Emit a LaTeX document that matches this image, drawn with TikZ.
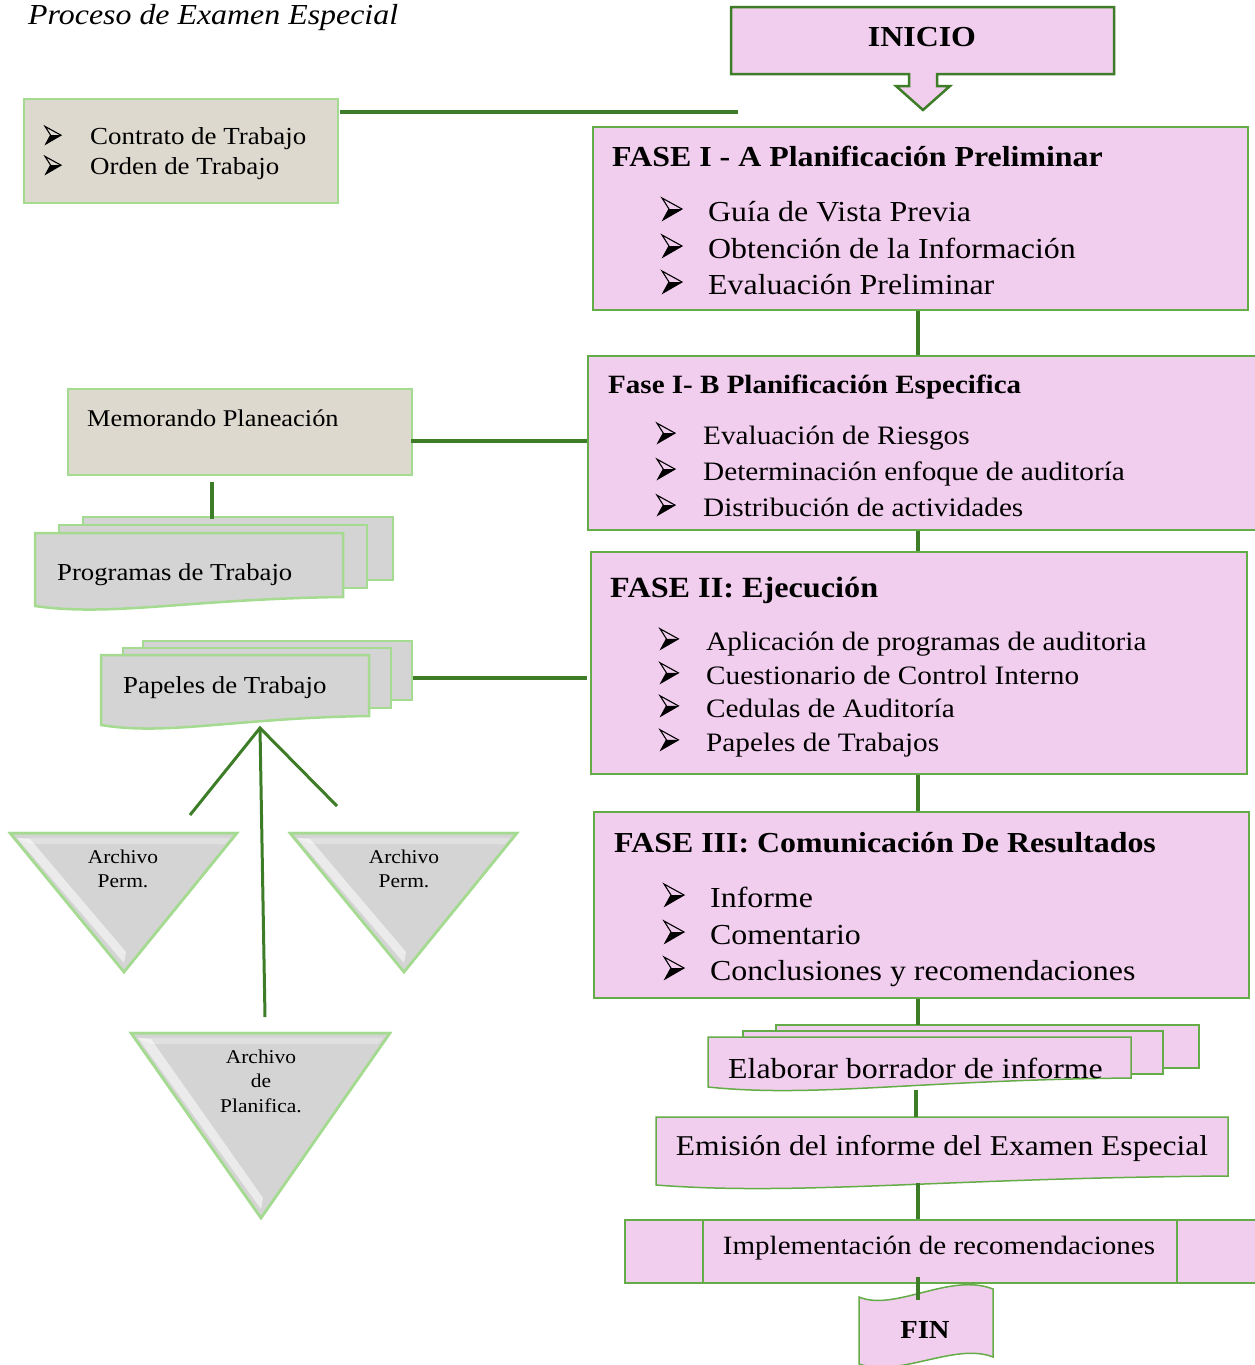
\documentclass[tikz,border=0pt]{standalone}
\usepackage{fontspec}
\setmainfont[FakeStretch=1.1]{Liberation Serif}
\usetikzlibrary{calc}
\definecolor{pinkf}{RGB}{242,206,238}
\definecolor{dkgreen}{RGB}{62,125,40}
\definecolor{mdgreen}{RGB}{100,172,72}
\definecolor{ltgreen}{RGB}{165,218,145}
\definecolor{grayf}{RGB}{212,212,212}
\definecolor{beigef}{RGB}{221,217,206}
\newcommand{\fs}[1]{\fontsize{#1}{#1}\selectfont}
% front document with wavy bottom: x1,y1,x2,y2(right bottom),style
\newcommand{\frontdoc}[5]{%
  \pgfmathsetmacro\wA{#1+0.5*(#3-#1)}%
  \pgfmathsetmacro\wB{#1+0.25*(#3-#1)}%
  \pgfmathsetmacro\yA{#4+2}\pgfmathsetmacro\yB{#4+20}\pgfmathsetmacro\yC{#4+9}%
  \draw[#5] (#1,#2) -- (#3,#2) -- (#3,#4) .. controls (\wA,\yA) and (\wB,\yB) .. (#1,\yC) -- cycle;}
% bevelled inverted triangle: Ax,Ay (top left), Bx (top right x), Cx,Cy (apex)
\newcommand{\bevtri}[5]{%
  \draw[grayshape] (#1,#2) -- (#3,#2) -- (#4,#5) -- cycle;
  \fill[white, opacity=0.55] ($(#1,#2)+(7,5)$) -- ($(#1,#2)+(20,6)$) -- ($(#4,#5)+(2,-20)$) -- ($(#4,#5)+(0,-9)$) -- cycle;
  \fill[white, opacity=0.3] ($(#1,#2)+(7,5)$) -- ($(#3,#2)+(-7,5)$) -- ($(#3,#2)+(-12,11)$) -- ($(#1,#2)+(20,11)$) -- cycle;
  \draw[draw=ltgreen, line width=2.5pt, line join=miter] (#1,#2) -- (#3,#2) -- (#4,#5) -- cycle;}
\begin{document}
\begin{tikzpicture}[x=1pt,y=-1pt,
  conn/.style={draw=dkgreen, line width=3.5pt},
  pinkbox/.style={draw=mdgreen, fill=pinkf, line width=1.5pt, inner sep=0pt, anchor=north west},
  beigebox/.style={draw=ltgreen, fill=beigef, line width=1.5pt, inner sep=0pt, anchor=north west},
  grayshape/.style={draw=ltgreen, fill=grayf, line width=2.5pt, line join=miter},
  pinkshape/.style={draw=mdgreen, fill=pinkf, line width=1.5pt},
  txt/.style={anchor=base west, inner sep=0pt},
  ctxt/.style={anchor=center, inner sep=0pt, align=center},
  bult/.pic={
    \draw[line width=1.1pt, line join=miter] (0,-22) -- (20,-11) -- (1,0) -- (7,-11) -- cycle;
    \fill (7,-11) -- (20,-11) -- (1,0) -- cycle;}]
\useasboundingbox (0,0) rectangle (1254,1365);

% title
\node[txt, font=\itshape\fs{29}] (title) at (28,24) {Proceso de Examen Especial};

% INICIO
\draw[draw=dkgreen, fill=pinkf, line width=2.5pt]
  (731,7) -- (1114,7) -- (1114,74) -- (937,74) -- (937,86) -- (950,86) -- (923,110)
  -- (896,86) -- (909,86) -- (909,74) -- (731,74) -- cycle;
\node[ctxt, font=\bfseries\fs{29}] (inicio) at (922,37) {INICIO};

% Contrato box
\node[beigebox, minimum width=314pt, minimum height=104pt] (contrato) at (23,98) {};
\pic[scale=0.8] at (45,144) {bult};
\node[txt, font=\fs{24.5}] (t01) at (90,144) {Contrato de Trabajo};
\pic[scale=0.8] at (45,174) {bult};
\node[txt, font=\fs{24.5}] (t02) at (90,174) {Orden de Trabajo};
\coordinate (lineend) at (738,112);
\draw[conn] ($(contrato.north east)+(1,14)$) -- (lineend);

% FASE I-A
\node[pinkbox, minimum width=655pt, minimum height=183pt] (f1) at (592,126) {};
\node[txt, font=\bfseries\fs{29}] (h1) at (612,166) {FASE I - A Planificación Preliminar};
\pic at (662,220) {bult};
\node[txt, font=\fs{29}] (t11) at (708,221) {Guía de Vista Previa};
\pic at (662,257) {bult};
\node[txt, font=\fs{29}] (t12) at (708,258) {Obtención de la Información};
\pic at (662,293) {bult};
\node[txt, font=\fs{29}] (t13) at (708,294) {Evaluación Preliminar};

% FASE I-B
\node[pinkbox, minimum width=670pt, minimum height=174pt] (f2) at (587,355) {};
\node[txt, font=\bfseries\fs{26.4}] (h2) at (608,393) {Fase I- B Planificación Especifica};
\pic[scale=0.9] at (657,443) {bult};
\node[txt, font=\fs{26.6}] (t21) at (703,444) {Evaluación de Riesgos};
\pic[scale=0.9] at (657,479) {bult};
\node[txt, font=\fs{26.6}] (t22) at (703,480) {Determinación enfoque de auditoría};
\pic[scale=0.9] at (657,515) {bult};
\node[txt, font=\fs{26.6}] (t23) at (703,516) {Distribución de actividades};

% Memorando
\node[beigebox, minimum width=344pt, minimum height=86pt] (memo) at (67,388) {};
\node[txt, font=\fs{24}] (tmemo) at (87,426) {Memorando Planeación};
\coordinate (memoright) at (411,441);
\draw[conn] (memoright) -- (memoright -| f2.west);

% Programas de Trabajo (multi-document)
\draw[grayshape] (83,517) rectangle (393,580);
\draw[grayshape] (59,525) rectangle (367,588);
\frontdoc{35}{533}{343}{597}{grayshape}
\node[txt, font=\fs{24.3}] (tprog) at (57,580) {Programas de Trabajo};
\coordinate (memobot) at (212,482);
\coordinate (progtop) at (212,519);
\draw[conn] (memobot) -- (progtop);

% Papeles de Trabajo
\draw[grayshape] (143,641) rectangle (412,700);
\draw[grayshape] (123,648) rectangle (391,708);
\frontdoc{101}{655}{369}{716}{grayshape}
\node[txt, font=\fs{24.4}] (tpap) at (123,693) {Papeles de Trabajo};
\coordinate (papright) at (413,678);
\draw[conn] (papright) -- (papright -| f2.west);

% FASE II
\node[pinkbox, minimum width=656pt, minimum height=222pt] (f3) at (590,551) {};
\node[txt, font=\bfseries\fs{29.3}] (h3) at (610,597) {FASE II: Ejecución};
\pic[scale=0.92] at (660,649) {bult};
\node[txt, font=\fs{26.6}] (t31) at (706,650) {Aplicación de programas de auditoria};
\pic[scale=0.92] at (660,683) {bult};
\node[txt, font=\fs{26.6}] (t32) at (706,684) {Cuestionario de Control Interno};
\pic[scale=0.92] at (660,716) {bult};
\node[txt, font=\fs{26.6}] (t33) at (706,717) {Cedulas de Auditoría};
\pic[scale=0.92] at (660,750) {bult};
\node[txt, font=\fs{26.6}] (t34) at (706,751) {Papeles de Trabajos};

% FASE III
\node[pinkbox, minimum width=655pt, minimum height=186pt] (f4) at (593,811) {};
\node[txt, font=\bfseries\fs{29}] (h4) at (614,852) {FASE III: Comunicación De Resultados};
\pic at (664,906) {bult};
\node[txt, font=\fs{29}] (t41) at (710,907) {Informe};
\pic at (664,943) {bult};
\node[txt, font=\fs{29}] (t42) at (710,944) {Comentario};
\pic at (664,979) {bult};
\node[txt, font=\fs{29}] (t43) at (710,980) {Conclusiones y recomendaciones};

% vertical connectors between phases
\coordinate (cx) at (918,0);
\draw[conn] (f1.south -| cx) -- (f2.north -| cx);
\draw[conn] (f2.south -| cx) -- (f3.north -| cx);
\draw[conn] (f3.south -| cx) -- (f4.north -| cx);

% fan to archive triangles
\coordinate (apex) at (260,728);
\coordinate (fanL) at (190,815);
\coordinate (fanR) at (337,806);
\coordinate (fanC) at (265,1017);
\draw[conn, line width=3pt] (fanL) -- (apex) -- (fanR);
\draw[conn, line width=3pt] (apex) -- (fanC);

\bevtri{10}{833}{237}{124}{972}
\node[ctxt, font=\fontsize{19.5}{24}\selectfont] (a1) at (123,869) {Archivo\\Perm.};
\bevtri{290}{833}{517}{404}{972}
\node[ctxt, font=\fontsize{19.5}{24}\selectfont] (a2) at (404,869) {Archivo\\Perm.};
\bevtri{131}{1033}{390}{261}{1218}
\node[ctxt, font=\fontsize{19.5}{24.5}\selectfont] (a3) at (261,1081) {Archivo\\de\\Planifica.};

% Elaborar borrador (pink multi-document)
\draw[pinkshape] (776,1025) rectangle (1199,1068);
\draw[pinkshape] (743,1031) rectangle (1163,1074);
\frontdoc{708}{1037}{1131}{1078}{pinkshape}
\node[txt, font=\fs{29}] (telab) at (728,1078) {Elaborar borrador de informe};
\coordinate (elabtop) at (918,1025);
\coordinate (elabbot) at (916,1090);
\draw[conn] (f4.south -| cx) -- (elabtop);

% Emision
\frontdoc{656}{1117}{1228}{1176}{pinkshape}
\node[ctxt, font=\fs{28.7}] (temis) at (942,1148) {Emisión del informe del Examen Especial};
\coordinate (emistop) at (916,1117);
\draw[conn] (elabbot) -- (emistop);

% Implementacion
\node[pinkbox, minimum width=640pt, minimum height=63pt] (impl) at (624,1219) {};
\draw[draw=mdgreen, line width=1.5pt] (703,1219) -- (703,1282);
\draw[draw=mdgreen, line width=1.5pt] (1177,1219) -- (1177,1282);
\node[ctxt, font=\fs{26.4}] (timpl) at (939,1248) {Implementación de recomendaciones};
\coordinate (emisbot) at (918,1183);
\draw[conn] (emisbot) -- (impl.north -| cx);

% FIN punched tape
\draw[pinkshape] (859,1297) .. controls (895,1312) and (950,1272) .. (993,1289)
  -- (993,1357) .. controls (955,1342) and (900,1378) .. (859,1364) -- cycle;
\node[ctxt, font=\bfseries\fs{26}] (fin) at (925,1330) {FIN};
\coordinate (fintop) at (918,1300);
\draw[conn] ($(impl.south -| cx)+(0,-7)$) -- (fintop);
\end{tikzpicture}
\end{document}
